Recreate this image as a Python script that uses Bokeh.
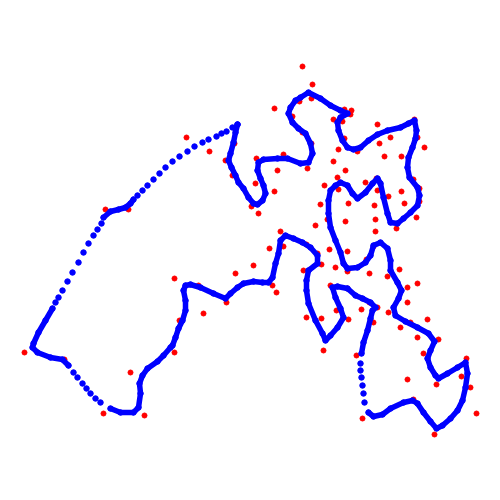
from bokeh.plotting import figure
from bokeh.models import Range1d
from bokeh.embed import file_html
from bokeh.resources import INLINE
import numpy as np

# control points (red)
red_x = [24, 64, 103, 144, 130, 105, 128, 174, 198, 235, 253, 226, 203, 179, 174,
         186, 209, 274, 225, 234, 232, 256, 283, 277, 255, 274, 251, 258, 292, 302,
         311, 307, 320, 315, 280, 283, 269, 303, 299, 302, 312, 311, 333, 338, 333,
         344, 351, 350, 342, 377, 414, 344, 390, 379, 417, 424, 357, 384, 401, 345,
         413, 337, 324, 338, 365, 376, 377, 401, 419, 388, 348, 374, 404, 419, 416,
         327, 345, 375, 396, 375, 306, 317, 329, 347, 373, 366, 321, 335, 347, 369,
         399, 387, 330, 347, 407, 417, 407, 369, 377, 361, 388, 336, 321, 306, 348,
         373, 410, 427, 400, 417, 323, 356, 423, 407, 413, 362, 438, 466, 461, 470,
         436, 476, 434, 272, 276]
red_y = [352, 359, 413, 415, 372, 209, 209, 278, 285, 273, 265, 302, 313, 320, 352,
         137, 151, 108, 160, 143, 175, 158, 154, 170, 183, 191, 206, 213, 116, 132,
         143, 168, 204, 225, 231, 246, 248, 270, 101, 66, 84, 98, 119, 149, 161,
         109, 110, 114, 121, 124, 119, 138, 137, 143, 137, 147, 151, 156, 156, 170,
         179, 177, 185, 189, 182, 178, 190, 191, 188, 196, 203, 205, 203, 201, 217,
         219, 221, 219, 228, 231, 244, 253, 249, 251, 246, 259, 264, 267, 271, 273,
         269, 276, 285, 288, 287, 283, 302, 302, 307, 309, 312, 310, 318, 317, 319,
         322, 322, 319, 327, 337, 350, 355, 353, 379, 399, 418, 339, 358, 376, 387,
         384, 413, 434, 285, 292]

# curve samples (blue), closed path
blue_x = [237, 232, 226, 221, 216, 208, 202, 194, 187, 179, 172, 165, 159, 153, 147, 142, 137,
          133, 130, 125, 118, 110, 103,
          101, 97, 93, 88, 83, 78, 72, 67, 62, 58, 55,
          52, 45, 38, 33, 32, 37, 50, 62, 68,
          73, 77, 82, 86, 90, 95, 100,
          110, 120, 133, 138, 140, 139, 142, 147, 157, 163, 170, 172, 175, 178, 182, 185,
          185, 183, 185, 190, 200, 213, 225, 230, 237, 243, 253, 262, 268, 272, 275, 278,
          280, 285, 293, 302, 310, 317, 317, 308, 306, 306, 308, 315, 322, 325, 330, 337,
          343, 340, 335, 332, 337, 347, 355, 362, 370, 375, 372, 370, 367, 363, 361,
          360, 360, 361, 362, 363, 364,
          368, 373, 382, 390, 403, 412, 417, 423, 430, 436, 442, 450, 457, 462, 465, 467,
          465, 457, 447, 438, 435, 430, 427, 430, 434, 428, 417, 405, 395, 393, 398, 401,
          397, 390, 390, 387, 380, 373, 370, 365, 357, 347, 343, 340, 335, 330, 328, 328,
          330, 335, 340, 347, 352, 357, 365, 372, 377, 380, 383, 387, 390, 397, 403, 410,
          417, 419, 417, 409, 407, 408, 412, 415, 416, 414, 408, 400, 387, 377, 368, 360,
          353, 347, 342, 338, 337, 340, 347, 340, 330, 320, 308, 300, 295, 290, 288, 292,
          298, 305, 310, 312, 308, 300, 287, 277, 263, 258, 257, 260, 263, 265, 262, 257,
          253, 248, 243, 238, 235, 231, 228, 230, 233, 235, 237]
blue_y = [124, 127, 131, 133, 136, 139, 142, 146, 151, 156, 161, 167, 173, 179, 185, 190, 195,
          199, 203, 207, 209, 211, 217,
          223, 229, 235, 243, 252, 262, 272, 281, 290, 297, 302,
          308, 320, 332, 343, 347, 352, 357, 359, 365,
          372, 377, 383, 388, 393, 398, 402,
          408, 412, 412, 407, 393, 383, 375, 368, 361, 355, 347, 345, 337, 328, 320, 310,
          300, 290, 285, 284, 287, 293, 298, 293, 287, 283, 281, 282, 282, 277, 263, 253,
          240, 235, 238, 242, 247, 255, 263, 270, 280, 290, 303, 320, 333, 340, 335, 327,
          317, 308, 297, 287, 286, 288, 295, 298, 302, 307, 310, 318, 330, 342, 353,
          363, 370, 377, 385, 393, 402,
          412, 416, 414, 408, 402, 400, 403, 412, 421, 428, 425, 418, 410, 400, 387, 373,
          362, 367, 373, 378, 375, 367, 358, 350, 341, 333, 327, 321, 315, 307, 298, 290,
          282, 270, 260, 248, 242, 245, 255, 262, 267, 268, 263, 252, 240, 227, 213, 200,
          190, 185, 182, 185, 193, 198, 192, 183, 178, 183, 197, 213, 222, 223, 218, 212,
          205, 195, 187, 177, 167, 157, 147, 138, 130, 120, 123, 127, 130, 134, 140, 147,
          149, 147, 140, 130, 122, 117, 113, 110, 105, 98, 92, 97, 100, 107, 113, 122,
          128, 133, 143, 153, 162, 163, 158, 158, 159, 162, 170, 178, 185, 193, 200, 204,
          203, 197, 188, 182, 175, 167, 160, 153, 142, 132, 124]

# index ranges of the curve drawn as separate samples (sparse parts)
sparse_ranges = [(1, 17), (23, 34), (43, 50), (113, 119)]

p = figure(width=500, height=500, output_backend="svg", toolbar_location=None,
           x_range=Range1d(0, 500), y_range=Range1d(500, 0),
           min_border=0, min_border_left=0, min_border_right=0,
           min_border_top=0, min_border_bottom=0)
p.axis.visible = False
p.xgrid.visible = False
p.ygrid.visible = False
p.outline_line_color = None
p.background_fill_color = "white"
p.border_fill_color = "white"

p.scatter(red_x, red_y, size=5, fill_color="red", line_color="red")

bx = np.array(blue_x, dtype=float)
by = np.array(blue_y, dtype=float)
lx = bx.copy()
ly = by.copy()
for a, b in sparse_ranges:
    lx[a:b] = np.nan
    ly[a:b] = np.nan
p.line(lx, ly, line_width=5.5, line_color="blue", line_join="round", line_cap="round")
p.scatter(bx, by, size=5.5, fill_color="blue", line_color="blue")

open("out.html", "w").write(file_html(p, INLINE))
